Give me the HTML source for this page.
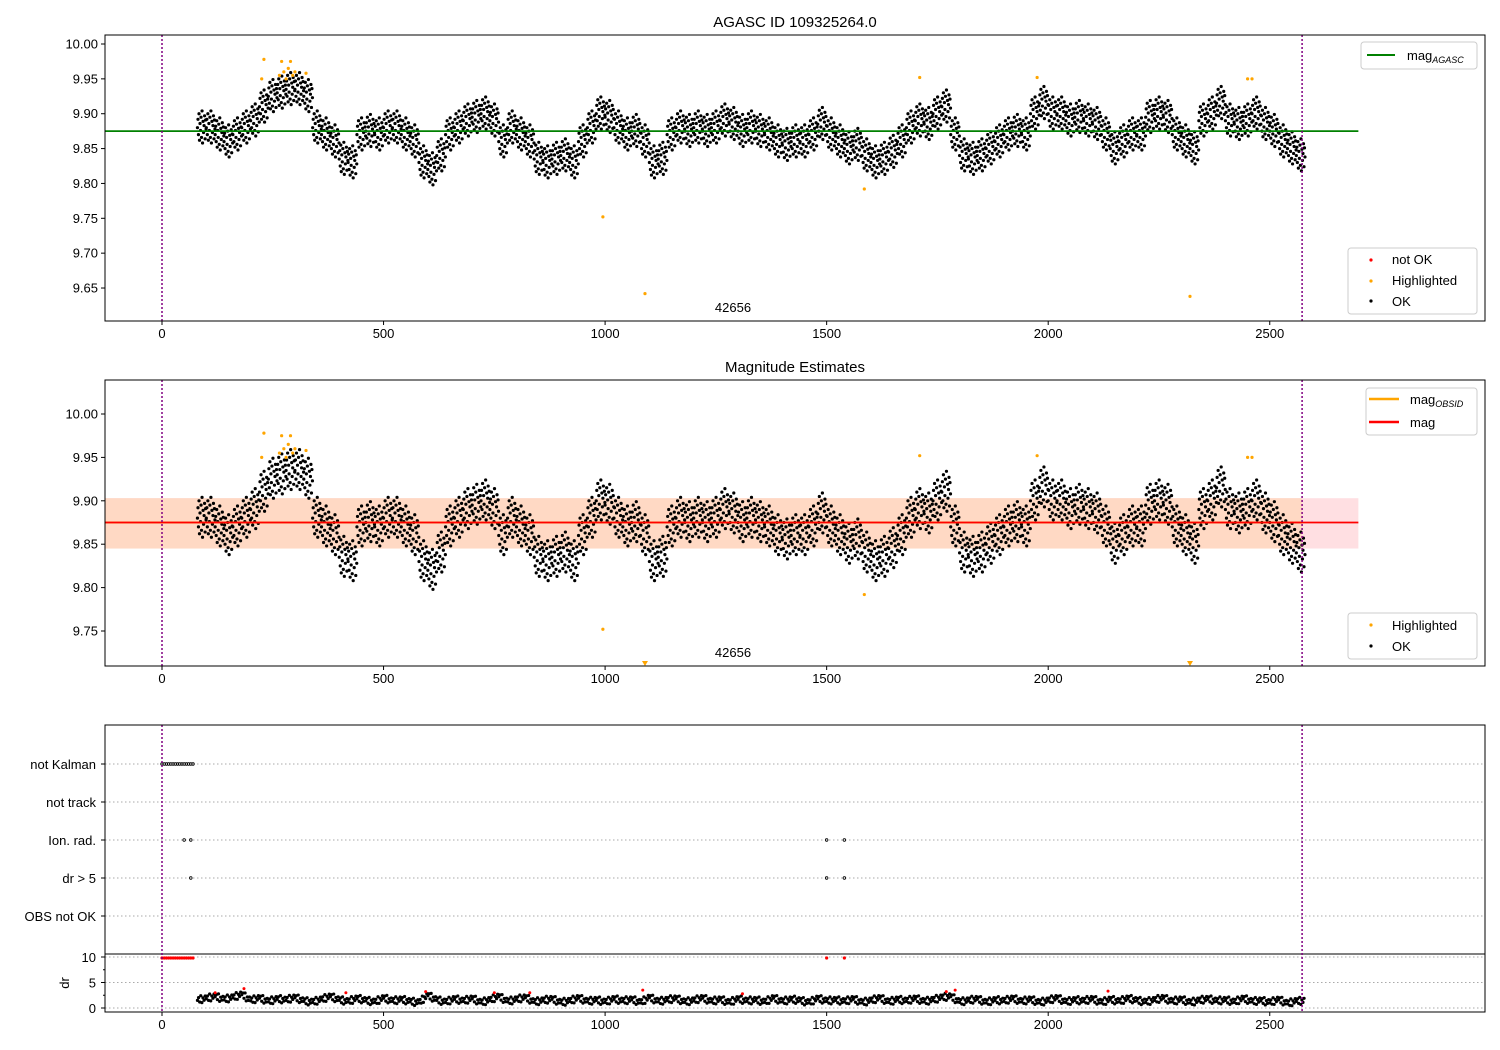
<!DOCTYPE html>
<html><head><meta charset="utf-8"><style>
body{margin:0;background:#fff}
svg{display:block;font-family:"Liberation Sans","DejaVu Sans",sans-serif}
</style></head><body>
<svg id="c" width="1500" height="1050" viewBox="0 0 1500 1050" xmlns="http://www.w3.org/2000/svg"></svg>
<script>
// ---- data ----
const times = [80,100,120,140,160,180,200,220,240,260,280,300,320,340,360,380,400,420,440,460,480,500,520,540,560,580,600,620,640,660,680,700,720,740,760,780,800,820,840,860,880,900,920,940,960,980,1000,1020,1040,1060,1080,1100,1120,1140,1160,1180,1200,1220,1240,1260,1280,1300,1320,1340,1360,1380,1400,1420,1440,1460,1480,1500,1520,1540,1560,1580,1600,1620,1640,1660,1680,1700,1720,1740,1760,1780,1800,1820,1840,1860,1880,1900,1920,1940,1960,1980,2000,2020,2040,2060,2080,2100,2120,2140,2160,2180,2200,2220,2240,2260,2280,2300,2320,2340,2360,2380,2400,2420,2440,2460,2480,2500,2520,2540,2560];
const mags = [9.88,9.88,9.87,9.86,9.87,9.88,9.89,9.91,9.925,9.93,9.935,9.935,9.925,9.88,9.87,9.86,9.835,9.83,9.87,9.875,9.87,9.88,9.88,9.87,9.86,9.83,9.82,9.84,9.87,9.88,9.89,9.895,9.9,9.89,9.86,9.88,9.87,9.86,9.835,9.83,9.835,9.84,9.83,9.86,9.88,9.9,9.895,9.88,9.87,9.875,9.86,9.83,9.835,9.87,9.88,9.875,9.88,9.875,9.88,9.89,9.885,9.875,9.88,9.875,9.87,9.86,9.855,9.86,9.86,9.87,9.885,9.87,9.86,9.85,9.855,9.84,9.83,9.835,9.845,9.86,9.88,9.89,9.885,9.9,9.91,9.87,9.84,9.835,9.84,9.85,9.86,9.87,9.875,9.87,9.9,9.915,9.9,9.9,9.89,9.895,9.89,9.885,9.87,9.85,9.86,9.87,9.87,9.895,9.9,9.895,9.87,9.86,9.85,9.89,9.9,9.915,9.89,9.885,9.89,9.9,9.885,9.875,9.86,9.85,9.84];
const drVals = [1.5,1.8,2.2,1.6,2.0,2.6,1.4,1.9,1.2,1.7,1.5,2.0,1.3,1.1,1.6,2.2,1.5,1.2,1.8,1.4,1.1,1.9,1.3,1.6,1.2,1.0,2.4,1.5,1.1,1.7,1.3,1.8,1.0,1.5,2.2,1.2,1.6,2.0,1.1,1.4,1.7,1.0,1.3,1.9,1.2,1.5,1.1,1.7,1.3,1.6,1.0,2.0,1.2,1.5,1.8,1.1,1.4,1.9,1.2,1.6,1.0,1.7,1.3,1.5,1.1,1.9,1.2,1.6,1.4,1.0,1.8,1.3,1.5,1.2,1.7,1.0,1.4,1.9,1.1,1.6,1.3,1.8,1.2,1.5,2.0,2.2,1.1,1.4,1.7,1.0,1.5,1.3,1.8,1.2,1.6,1.0,1.4,1.9,1.1,1.5,1.3,1.7,1.0,1.6,1.2,1.8,1.4,1.1,1.5,1.9,1.2,1.6,1.0,1.4,1.7,1.3,1.5,1.1,1.8,1.2,1.4,1.0,1.6,0.8,1.3];
const hlTimes = [225,230,265,270,275,280,285,290,295,300,325,995,1090,1585,1710,1975,2320,2450,2460];
const hlMags = [9.95,9.978,9.955,9.975,9.96,9.95,9.965,9.975,9.955,9.96,9.958,9.752,9.642,9.792,9.952,9.952,9.638,9.95,9.95];
const drRedTimes = [120,185,415,595,750,830,1085,1310,1770,1790,2135];
const drRedVals = [3,3.8,3,3.2,3,3,3.5,2.8,3.2,3.5,3.3];
const flagCats = ["not Kalman","not track","Ion. rad.","dr > 5","OBS not OK"];
const flagTimes = [[0,5,10,15,20,25,30,35,40,45,50,55,60,65,70],[],[50,65,1500,1540],[65,1500,1540],[]];
const xTicks = [0,500,1000,1500,2000,2500];
const topTicks = [10.00,9.95,9.90,9.85,9.80,9.75,9.70,9.65];
const midTicks = [10.00,9.95,9.90,9.85,9.80,9.75];
const refMag = 9.875, bandLo = 9.845, bandHi = 9.903, tEnd = 2573, tLine = 2700;

// ---- helpers ----
const S = document.getElementById('c'); const NS = 'http://www.w3.org/2000/svg';
function el(tag, at, parent){const e=document.createElementNS(NS,tag);for(const k in at)e.setAttribute(k,at[k]);(parent||S).appendChild(e);return e;}
const X = t => 162 + t*0.4431;
const yTop = m => 44 + (10-m)/0.05*34.86;
const yMid = m => 414 + (10-m)/0.05*43.4;
const yDr = d => 1008 - d*5.1;
const L=105,R=1485;
const jy=[0,0.012,-0.01,0.02,-0.018,0.006,-0.004,0.015,-0.014,0.024,-0.022,0.009,-0.007,0.003,0.017,-0.016,0.011,-0.002];
const jx=[0,1.2,2.3,3.5,4.6,5.8,6.9,8.1,9.2,10.4,11.5,12.7,13.8,15,16.1,17.3,18.4,19.5];
const dj=[0,0.5,-0.4,0.8,-0.6,0.3,-0.2,0.6];

function frame(y0,y1,name){const r=el('rect',{x:L,y:y0,width:R-L,height:y1-y0,fill:'none',stroke:'#000','stroke-width':1});}
function xAxis(yb){xTicks.forEach(t=>{el('line',{x1:X(t),x2:X(t),y1:yb,y2:yb+4,stroke:'#000'});const tx=el('text',{x:X(t),y:yb+17,'text-anchor':'middle','font-size':13});tx.textContent=t;});}
function yAxis(ticks,f){ticks.forEach(v=>{el('line',{x1:L-4,x2:L,y1:f(v),y2:f(v),stroke:'#000'});const tx=el('text',{x:L-7,y:f(v)+4.5,'text-anchor':'end','font-size':13});tx.textContent=v.toFixed(2);});}
function vlines(y0,y1){[0,tEnd].forEach(t=>{const l=el('line',{x1:X(t),x2:X(t),y1:y0,y2:y1,stroke:'#800080','stroke-width':1.5,'stroke-dasharray':'2,2'});});}
function scatter(f,g){times.forEach((t,i)=>{jx.forEach((dx,k)=>{el('circle',{cx:X(t+dx),cy:f(mags[i]+jy[k]),r:1.6,fill:'#000'},g);});});}
function title(txt,y,name){const t=el('text',{x:795,y:y,'text-anchor':'middle','font-size':15});t.textContent=txt;}
function txt(s,x,y,a,fs,name){const t=el('text',{x:x,y:y,'text-anchor':a||'start','font-size':fs||13});t.innerHTML=s;return t;}
function legendBox(x,y,w,h,name){const r=el('rect',{x:x,y:y,width:w,height:h,rx:3,fill:'#fff','fill-opacity':0.85,stroke:'#ccc'});}

// ---- top panel ----
title('AGASC ID 109325264.0',27,'top-title');
const gTop=el('g',{});
scatter(yTop,gTop);
hlTimes.forEach((t,i)=>{const c=el('circle',{cx:X(t),cy:yTop(hlMags[i]),r:1.6,fill:'orange'});});
const gl=el('line',{x1:L,x2:X(tLine),y1:yTop(refMag),y2:yTop(refMag),stroke:'green','stroke-width':1.8});
vlines(35,321);frame(35,321,'top-axes');xAxis(321);yAxis(topTicks,yTop);
txt('42656',733,312,'middle',13,'obsid-label-top');
legendBox(1361,42,116,27,'top-legend');
el('line',{x1:1367,x2:1395,y1:55,y2:55,stroke:'green','stroke-width':2});
txt('mag<tspan font-size="9" font-style="italic" dy="3">AGASC</tspan>',1407,60,'start',13,'legend-mag-agasc');
legendBox(1348,248,129,66,'top-status-legend');
el('circle',{cx:1371,cy:260,r:1.6,fill:'red'});txt('not OK',1392,264,'start',13,'legend-not-ok');
el('circle',{cx:1371,cy:281,r:1.6,fill:'orange'});txt('Highlighted',1392,285,'start',13,'legend-highlighted');
el('circle',{cx:1371,cy:301,r:1.6,fill:'#000'});txt('OK',1392,306,'start',13,'legend-ok');

// ---- middle panel ----
title('Magnitude Estimates',372,'middle-title');
const pb=el('rect',{x:L,y:yMid(bandHi),width:X(tLine)-L,height:yMid(bandLo)-yMid(bandHi),fill:'#ffdfe2'});
const ob=el('rect',{x:L,y:yMid(bandHi),width:X(tEnd)-L,height:yMid(bandLo)-yMid(bandHi),fill:'#ffd9c4'});
const gMid=el('g',{});
scatter(yMid,gMid);
hlTimes.forEach((t,i)=>{const m=hlMags[i];if(m<9.712){const x=X(t),y=663;const p=el('path',{d:`M${x-3},${y-2}L${x+3},${y-2}L${x},${y+3}Z`,fill:'orange'});}else{const c=el('circle',{cx:X(t),cy:yMid(m),r:1.6,fill:'orange'});}});
el('line',{x1:L,x2:X(tEnd),y1:yMid(refMag),y2:yMid(refMag),stroke:'orange','stroke-width':2});
const rl=el('line',{x1:L,x2:X(tLine),y1:yMid(refMag),y2:yMid(refMag),stroke:'red','stroke-width':1.8});
vlines(380,666);frame(380,666,'middle-axes');xAxis(666);yAxis(midTicks,yMid);
txt('42656',733,657,'middle',13,'obsid-label-middle');
legendBox(1366,388,111,47,'middle-legend');
el('line',{x1:1369,x2:1399,y1:399,y2:399,stroke:'orange','stroke-width':2.5});
txt('mag<tspan font-size="9" font-style="italic" dy="3">OBSID</tspan>',1410,404,'start',13,'legend-mag-obsid');
el('line',{x1:1369,x2:1399,y1:422,y2:422,stroke:'red','stroke-width':2.5});
txt('mag',1410,427,'start',13,'legend-mag');
legendBox(1348,613,129,46,'middle-status-legend');
el('circle',{cx:1371,cy:625,r:1.6,fill:'orange'});txt('Highlighted',1392,630,'start',13,'legend-highlighted-2');
el('circle',{cx:1371,cy:646,r:1.6,fill:'#000'});txt('OK',1392,651,'start',13,'legend-ok-2');

// ---- bottom panel ----
const catY=[764,802,840,878,916];
flagCats.forEach((c,i)=>{el('line',{x1:L,x2:R,y1:catY[i],y2:catY[i],stroke:'#aaa','stroke-dasharray':'1.5,2.5'});el('line',{x1:L-4,x2:L,y1:catY[i],y2:catY[i],stroke:'#000'});txt(c,96,catY[i]+5,'end',13,'flag-label');
flagTimes[i].forEach(t=>{const c2=el('circle',{cx:X(t),cy:catY[i],r:1.3,fill:'none',stroke:'#000','stroke-width':0.8});});});
[10,5,0].forEach(d=>{el('line',{x1:L,x2:R,y1:yDr(d),y2:yDr(d),stroke:'#aaa','stroke-dasharray':'1.5,2.5'});el('line',{x1:L-4,x2:L,y1:yDr(d),y2:yDr(d),stroke:'#000'});txt(String(d),96,yDr(d)+5,'end',13,'dr-tick-label');});
[7.5,2.5].forEach(d=>el('line',{x1:L-2,x2:L,y1:yDr(d),y2:yDr(d),stroke:'#000'}));
const dl=txt('dr',0,0,'middle',13,'dr-axis-title');dl.setAttribute('transform','translate(69,983) rotate(-90)');
const gDr=el('g',{});
times.forEach((t,i)=>{const nd=drVals[i+1]!==undefined?drVals[i+1]:drVals[i];for(let k=0;k<8;k++){const f=k/8;el('circle',{cx:X(t+20*f),cy:yDr(drVals[i]+(nd-drVals[i])*f+dj[k]),r:1.6,fill:'#000'},gDr);}});
drRedTimes.forEach((t,i)=>{const c=el('circle',{cx:X(t),cy:yDr(drRedVals[i]),r:1.5,fill:'red'});});
flagTimes[0].concat([1500,1540]).forEach(t=>{const c=el('circle',{cx:X(t),cy:yDr(9.8),r:1.6,fill:'red'});});
el('line',{x1:L,x2:R,y1:954,y2:954,stroke:'#000','stroke-width':1});
vlines(725,1012);frame(725,1012,'bottom-axes');xAxis(1012);
</script>
</body></html>
